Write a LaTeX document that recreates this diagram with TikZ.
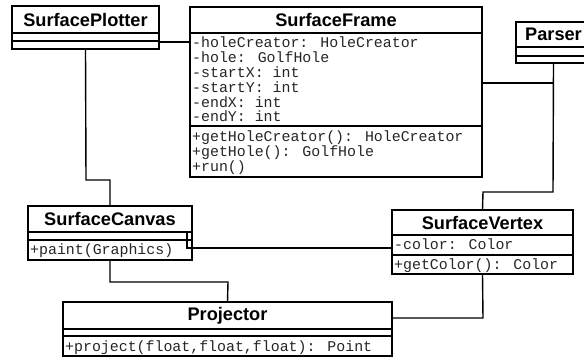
\documentclass[tikz,border=0pt]{standalone}
\usepackage{fontspec}
\setmainfont{Liberation Sans}
\newfontfamily\monof{Liberation Mono}
\tikzset{
  uml/.style={line width=1.4pt, black},
  classbox/.style={draw, line width=1.4pt, anchor=north west, inner sep=0pt, outer sep=0pt, fill=white},
  ctitle/.style={font=\fontsize{18.2}{20}\selectfont\bfseries, inner sep=0pt, anchor=center},
  mtext/.style={font=\monof\fontsize{14.9}{15}\selectfont, inner sep=0pt, anchor=base west, text=black!85},
}
\begin{document}
\begin{tikzpicture}[x=1pt,y=-1pt]
\useasboundingbox (0,0) rectangle (584,358);
\clip (0,0) rectangle (584,358);
\fill[white] (0,0) rectangle (584,358);

% connector bends
\coordinate (j1) at (86,180);
\coordinate (j2) at (110,180);
\coordinate (j3) at (553,192);
\coordinate (j4) at (483,192);
\coordinate (j5) at (187,231);
\coordinate (j6) at (110,282);
\coordinate (j7) at (228,282);
\coordinate (j8) at (483,318);

% boxes
\node[classbox, minimum width=147pt, minimum height=43pt] (sp) at (12,6) {};
\node[classbox, minimum width=292pt, minimum height=170pt] (sf) at (190,7) {};
\node[classbox, minimum width=75pt, minimum height=41pt] (pa) at (516,22) {};
\node[classbox, minimum width=164pt, minimum height=54pt] (sc) at (28,206) {};
\node[classbox, minimum width=181pt, minimum height=64pt] (sv) at (392,210) {};
\node[classbox, minimum width=329pt, minimum height=54pt] (pr) at (63,302) {};

% connectors
\draw[uml] (sp.east |- 0,42) -- (sf.west |- 0,42);
\draw[uml] (sp.south) -- (j1) -- (j2) -- (sc.north);
\draw[uml] (sf.east |- 0,83) -- (pa.south |- 0,83) -- (pa.south);
\draw[uml] (pa.south) -- (j3) -- (j4) -- (sv.north);
\draw[uml] (j5) -- (j5 |- 0,248) -- (sv.west |- 0,248);
\draw[uml] (sc.south) -- (j6) -- (j7) -- (pr.north);
\draw[uml] (sv.south) -- (j8) -- (pr.east |- j8);

% dividers
\draw[uml] (sp.west |- 0,33) -- (sp.east |- 0,33);
\draw[uml] (sp.west |- 0,41) -- (sp.east |- 0,41);
\draw[uml] (sf.west |- 0,33) -- (sf.east |- 0,33);
\draw[uml] (sf.west |- 0,126) -- (sf.east |- 0,126);
\draw[uml] (pa.west |- 0,47) -- (pa.east |- 0,47);
\draw[uml] (pa.west |- 0,56) -- (pa.east |- 0,56);
\draw[uml] (sc.west |- 0,232) -- (sc.east |- 0,232);
\draw[uml] (sc.west |- 0,240) -- (sc.east |- 0,240);
\draw[uml] (sv.west |- 0,235) -- (sv.east |- 0,235);
\draw[uml] (sv.west |- 0,255) -- (sv.east |- 0,255);
\draw[uml] (pr.west |- 0,329) -- (pr.east |- 0,329);
\draw[uml] (pr.west |- 0,336) -- (pr.east |- 0,336);

% titles
\node[ctitle] (spT) at (sp.north |- 0,19.5) {SurfacePlotter};
\node[ctitle] (sfT) at (sf.north |- 0,20) {SurfaceFrame};
\node[ctitle] (paT) at (553.5,34.5) {Parser};
\node[ctitle] (scT) at (sc.north |- 0,219) {SurfaceCanvas};
\node[ctitle] (svT) at (sv.north |- 0,222.5) {SurfaceVertex};
\node[ctitle] (prT) at (pr.north |- 0,316) {Projector};

% members
\node[mtext] (sf1) at (192,47.5) {-holeCreator: HoleCreator};
\node[mtext] (sf2) at (192,62.5) {-hole: GolfHole};
\node[mtext] (sf3) at (192,77.5) {-startX: int};
\node[mtext] (sf4) at (192,92.5) {-startY: int};
\node[mtext] (sf5) at (192,107.5) {-endX: int};
\node[mtext] (sf6) at (192,122) {-endY: int};
\node[mtext] (sf7) at (192,141.5) {+getHoleCreator(): HoleCreator};
\node[mtext] (sf8) at (192,156.5) {+getHole(): GolfHole};
\node[mtext] (sf9) at (192,171.5) {+run()};
\node[mtext] (sc1) at (30,255) {+paint(Graphics)};
\node[mtext] (sv1) at (394,249.5) {-color: Color};
\node[mtext] (sv2) at (394,270) {+getColor(): Color};
\node[mtext] (pr1) at (65,351) {+project(float,float,float): Point};
\end{tikzpicture}
\end{document}
